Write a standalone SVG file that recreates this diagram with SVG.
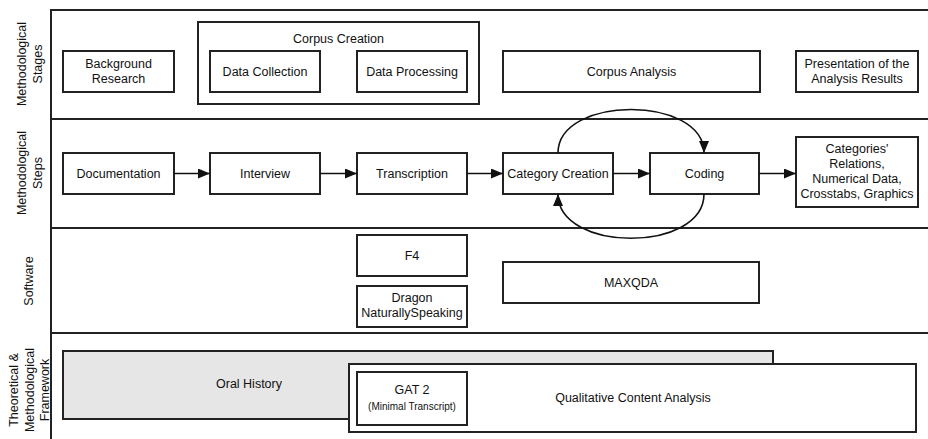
<svg xmlns="http://www.w3.org/2000/svg" width="928" height="439" viewBox="0 0 928 439">
<style>
.bx{fill:#fff;stroke:#222;stroke-width:2}
.gr{fill:#e6e6e6;stroke:#222;stroke-width:2}
.fr{fill:none;stroke:#222;stroke-width:2}
.t{font-family:"Liberation Sans",Arial,sans-serif;font-size:12.5px;fill:#111;text-anchor:middle}
.s{font-size:10px}
.cn{fill:none;stroke:#111;stroke-width:1.6}
</style>
<defs>
<marker id="ah" viewBox="0 0 12 10" refX="12" refY="5" markerWidth="12" markerHeight="10" markerUnits="userSpaceOnUse" orient="auto">
<path d="M0,0 L12,5 L0,10 Z" fill="#111"/>
</marker>
</defs>
<g id="frame">
<path class="fr" d="M51,439 V10 H928 M51,119 H928 M51,228 H928 M51,333 H928"/>
</g>
<g id="row-labels">
<text class="t" transform="translate(21,64) rotate(-90)" dy="4.5">Methodological</text>
<text class="t" transform="translate(37,64) rotate(-90)" dy="4.5">Stages</text>
<text class="t" transform="translate(21,173) rotate(-90)" dy="4.5">Methodological</text>
<text class="t" transform="translate(37,173) rotate(-90)" dy="4.5">Steps</text>
<text class="t" transform="translate(28,281) rotate(-90)" dy="4.5">Software</text>
<text class="t" transform="translate(13,390) rotate(-90)" dy="4.5">Theoretical &amp;</text>
<text class="t" transform="translate(29,390) rotate(-90)" dy="4.5">Methodological</text>
<text class="t" transform="translate(44,390) rotate(-90)" dy="4.5">Framework</text>
</g>
<g id="background-research"><rect class="bx" x="63" y="51" width="111" height="41"/><text class="t" x="118.5" y="68">Background</text><text class="t" x="118.5" y="83">Research</text></g>
<g id="corpus-creation"><rect class="bx" x="198" y="22" width="281" height="82"/><text class="t" x="338.5" y="42.5">Corpus Creation</text></g>
<g id="data-collection"><rect class="bx" x="210" y="51" width="110" height="41"/><text class="t" x="265" y="76">Data Collection</text></g>
<g id="data-processing"><rect class="bx" x="357" y="51" width="110" height="41"/><text class="t" x="412" y="76">Data Processing</text></g>
<g id="corpus-analysis"><rect class="bx" x="503" y="51" width="257" height="41"/><text class="t" x="631.5" y="76">Corpus Analysis</text></g>
<g id="presentation"><rect class="bx" x="796" y="51" width="122" height="41"/><text class="t" x="857" y="68">Presentation of the</text><text class="t" x="857" y="83">Analysis Results</text></g>
<g id="documentation"><rect class="bx" x="63" y="153" width="111" height="41"/><text class="t" x="118.5" y="178">Documentation</text></g>
<g id="interview"><rect class="bx" x="210" y="153" width="110" height="41"/><text class="t" x="265" y="178">Interview</text></g>
<g id="transcription"><rect class="bx" x="357" y="153" width="110" height="41"/><text class="t" x="412" y="178">Transcription</text></g>
<g id="category-creation"><rect class="bx" x="503" y="153" width="110" height="41"/><text class="t" x="558" y="178">Category Creation</text></g>
<g id="coding"><rect class="bx" x="650" y="153" width="109" height="41"/><text class="t" x="704.5" y="178">Coding</text></g>
<g id="categories-relations"><rect class="bx" x="796" y="137" width="122" height="70"/><text class="t" x="857" y="152.5">Categories'</text><text class="t" x="857" y="167.5">Relations,</text><text class="t" x="857" y="182.5">Numerical Data,</text><text class="t" x="857" y="197.5">Crosstabs, Graphics</text></g>
<g id="f4"><rect class="bx" x="357" y="235" width="110" height="41"/><text class="t" x="412" y="260">F4</text></g>
<g id="dragon"><rect class="bx" x="357" y="286" width="110" height="41"/><text class="t" x="412" y="302">Dragon</text><text class="t" x="412" y="317">NaturallySpeaking</text></g>
<g id="maxqda"><rect class="bx" x="503" y="262" width="256" height="41"/><text class="t" x="631" y="287">MAXQDA</text></g>
<g id="oral-history"><rect class="gr" x="63" y="351" width="710" height="68"/><text class="t" x="249" y="388">Oral History</text></g>
<g id="qualitative-content-analysis"><rect class="bx" x="349" y="364" width="567" height="68"/><text class="t" x="633" y="402">Qualitative Content Analysis</text></g>
<g id="gat2"><rect class="bx" x="357" y="372" width="110" height="53"/><text class="t" x="412" y="394">GAT 2</text><text class="t s" x="412" y="410">(Minimal Transcript)</text></g>
<g id="connectors">
<path class="cn" d="M174,173.5 H210" marker-end="url(#ah)"/>
<path class="cn" d="M320,173.5 H357" marker-end="url(#ah)"/>
<path class="cn" d="M467,173.5 H503" marker-end="url(#ah)"/>
<path class="cn" d="M613,173.5 H650" marker-end="url(#ah)"/>
<path class="cn" d="M759,173.5 H796" marker-end="url(#ah)"/>
<path class="cn" d="M558,153 C558,95 704,95 704,153" marker-end="url(#ah)"/>
<path class="cn" d="M704,194 C704,253 558,253 558,194" marker-end="url(#ah)"/>
</g>
</svg>
